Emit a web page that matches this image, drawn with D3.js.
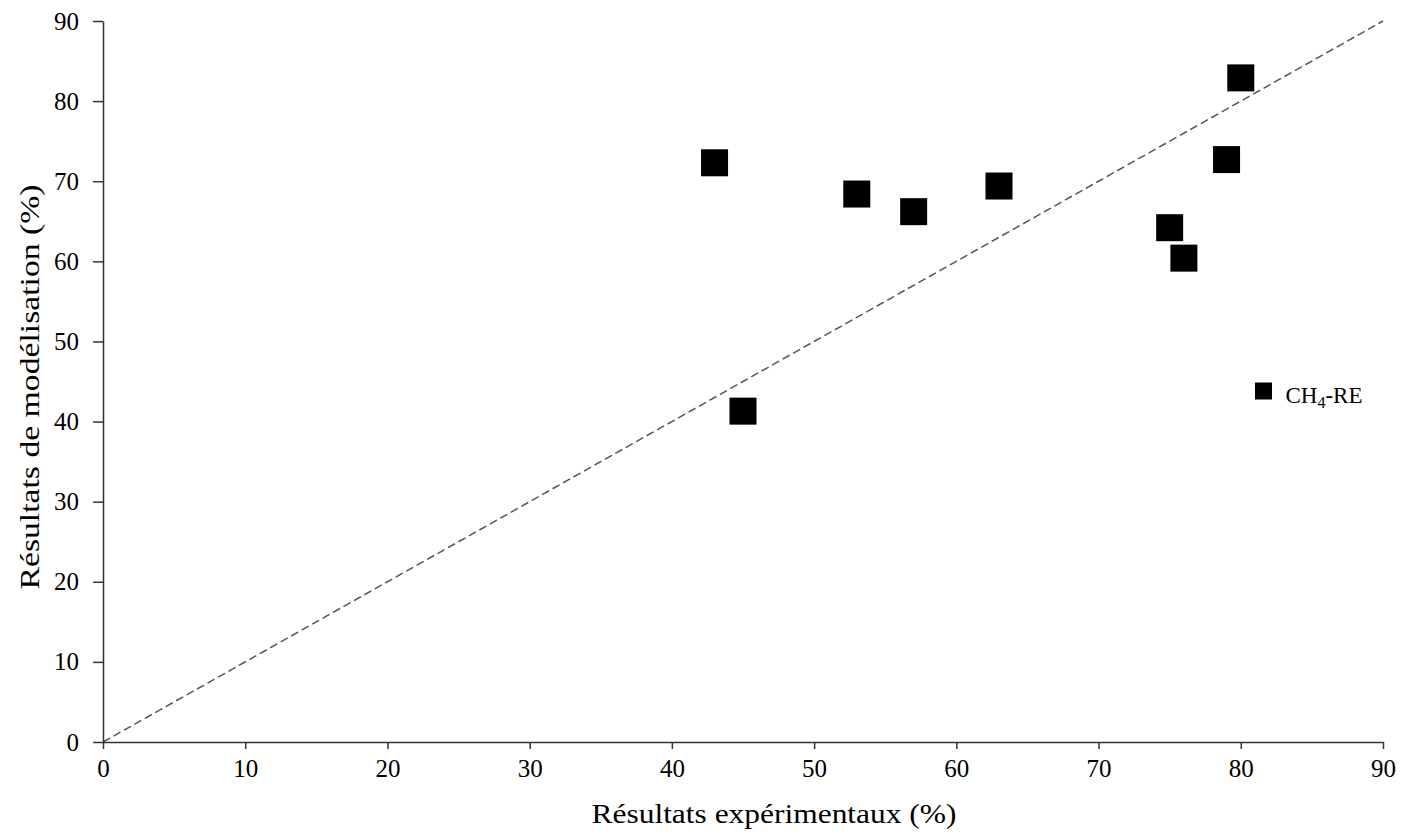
<!DOCTYPE html>
<html>
<head>
<meta charset="utf-8">
<script src="https://cdn.jsdelivr.net/npm/d3@7"></script>
<style>
  body { margin: 0; background: #fff; }
  svg text { font-family: "Liberation Serif", "Times New Roman", serif; fill: #000; }
</style>
</head>
<body>
<div id="chart"></div>
<script>
// measured vs. modelled CH4 removal efficiency (%)
const experimental = [43, 45, 53, 57, 63, 75, 76, 79, 80];
const modelled = [72.3, 41.3, 68.4, 66.2, 69.4, 64.2, 60.4, 72.7, 82.9];
const xTicks = [0, 10, 20, 30, 40, 50, 60, 70, 80, 90];
const yTicks = [0, 10, 20, 30, 40, 50, 60, 70, 80, 90];
const seriesName = 'CH4-RE';

const width = 1408, height = 837;
const margin = { top: 21, right: 25, bottom: 95, left: 103 };
const innerW = width - margin.left - margin.right;
const innerH = height - margin.top - margin.bottom;

const svg = d3.select('#chart').append('svg')
  .attr('width', width)
  .attr('height', height);

const g = svg.append('g')
  .attr('transform', `translate(${margin.left}, ${margin.top})`);

const x = d3.scaleLinear().domain([0, 90]).range([0, innerW]);
const y = d3.scaleLinear().domain([0, 90]).range([innerH, 0]);

// 1:1 reference line
g.append('line')
  .attr('x1', x(0)).attr('y1', y(0))
  .attr('x2', x(90)).attr('y2', y(90))
  .attr('stroke', '#555')
  .attr('stroke-width', 1.5)
  .attr('stroke-dasharray', '8,4');

const xAxis = g.append('g')
  .attr('transform', `translate(0, ${innerH})`)
  .call(d3.axisBottom(x).tickValues(xTicks).tickSize(7).tickSizeOuter(0).tickPadding(10));

const yAxis = g.append('g')
  .call(d3.axisLeft(y).tickValues(yTicks).tickSize(10).tickSizeOuter(0).tickPadding(14));

[xAxis, yAxis].forEach(ax => {
  ax.select('.domain').attr('stroke', '#333').attr('stroke-width', 1.5);
  ax.selectAll('.tick line').attr('stroke', '#333').attr('stroke-width', 1.5);
  ax.selectAll('.tick text')
    .attr('font-family', '"Liberation Serif", serif')
    .attr('font-size', '25px')
    .attr('fill', '#000');
});

// points
const size = 27;
g.selectAll('rect.pt')
  .data(experimental.map((d, i) => ({ x: d, y: modelled[i] })))
  .enter()
  .append('rect')
  .attr('class', 'pt')
  .attr('x', d => x(d.x) - size / 2)
  .attr('y', d => y(d.y) - size / 2)
  .attr('width', size)
  .attr('height', size)
  .attr('fill', '#000');

// legend
const legend = svg.append('g').attr('transform', 'translate(1263.5, 391)');
legend.append('rect')
  .attr('x', -8.5).attr('y', -8.5)
  .attr('width', 17).attr('height', 17)
  .attr('fill', '#000');
const lt = legend.append('text')
  .attr('x', 22).attr('y', 12)
  .attr('font-size', '23px');
lt.append('tspan').text(seriesName.slice(0, 2));
lt.append('tspan').attr('font-size', '16px').attr('dy', 5).text(seriesName.slice(2, 3));
lt.append('tspan').attr('dy', -5).text(seriesName.slice(3));

// axis titles
svg.append('text')
  .attr('x', 774)
  .attr('y', 823)
  .attr('text-anchor', 'middle')
  .attr('font-size', '28px')
  .attr('textLength', 365)
  .attr('lengthAdjust', 'spacingAndGlyphs')
  .text('Résultats expérimentaux (%)');

svg.append('text')
  .attr('transform', 'translate(39, 387) rotate(-90)')
  .attr('text-anchor', 'middle')
  .attr('font-size', '28px')
  .attr('textLength', 405)
  .attr('lengthAdjust', 'spacingAndGlyphs')
  .text('Résultats de modélisation (%)');
</script>
</body>
</html>
